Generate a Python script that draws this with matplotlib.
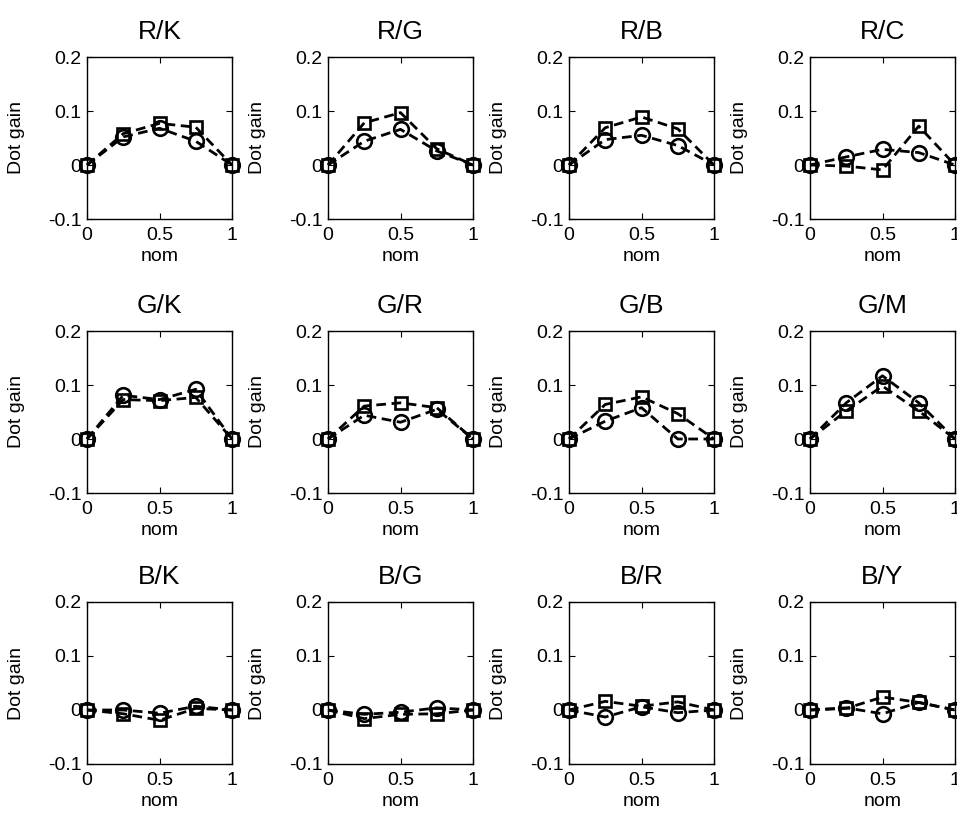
import matplotlib
matplotlib.use("Agg")
import matplotlib.pyplot as plt

plt.rcParams['font.family'] = ['Liberation Sans', 'DejaVu Sans']

nom = [0, 0.25, 0.5, 0.75, 1]

titles = ['R/K', 'R/G', 'R/B', 'R/C',
          'G/K', 'G/R', 'G/B', 'G/M',
          'B/K', 'B/G', 'B/R', 'B/Y']

# square-marker series per panel
gain_sq = [
    [0, 0.058, 0.077, 0.070, 0],
    [0, 0.078, 0.097, 0.030, 0],
    [0, 0.069, 0.089, 0.067, 0],
    [0, -0.002, -0.009, 0.072, 0],
    [0, 0.073, 0.071, 0.077, 0],
    [0, 0.061, 0.067, 0.058, 0],
    [0, 0.064, 0.078, 0.047, 0],
    [0, 0.052, 0.098, 0.052, 0],
    [0, -0.007, -0.019, 0.003, 0],
    [0, -0.016, -0.008, -0.007, 0],
    [0, 0.016, 0.007, 0.015, 0],
    [0, 0.003, 0.024, 0.014, 0],
]

# circle-marker series per panel
gain_ci = [
    [0, 0.052, 0.068, 0.044, 0],
    [0, 0.044, 0.066, 0.026, 0],
    [0, 0.047, 0.055, 0.036, 0],
    [0, 0.015, 0.029, 0.023, 0],
    [0, 0.081, 0.073, 0.092, 0],
    [0, 0.044, 0.031, 0.055, 0],
    [0, 0.033, 0.058, 0.000, 0],
    [0, 0.067, 0.117, 0.067, 0],
    [0, 0.000, -0.006, 0.007, 0],
    [0, -0.008, -0.004, 0.004, 0],
    [0, -0.013, 0.006, -0.005, 0],
    [0, 0.004, -0.007, 0.014, 0],
]

W, H = 957, 818
fig = plt.figure(figsize=(W / 100, H / 100), dpi=100)

lefts = [87, 328, 569, 810]
tops = [57, 331, 602]
aw, ah = 145, 162

for i in range(12):
    r, c = divmod(i, 4)
    ax = fig.add_axes([lefts[c] / W, 1 - (tops[r] + ah) / H, aw / W, ah / H])
    ax.plot(nom, gain_sq[i], color='k', ls='--', dashes=(3.5, 2), lw=2.0,
            marker='s', ms=8, mfc='none', mew=1.9, clip_on=False)
    ax.plot(nom, gain_ci[i], color='k', ls='--', dashes=(3.5, 2), lw=2.0,
            marker='o', ms=10.5, mfc='none', mew=1.9, clip_on=False)
    ax.set_xlim(0, 1)
    ax.set_ylim(-0.1, 0.2)
    ax.set_xticks([0, 0.5, 1])
    ax.set_xticklabels(['0', '0.5', '1'])
    ax.set_yticks([-0.1, 0, 0.1, 0.2])
    ax.set_yticklabels(['-0.1', '0', '0.1', '0.2'])
    ax.tick_params(direction='in', length=4, width=0.8, top=True, right=True,
                   labelsize=14)
    ax.tick_params(axis='x', pad=6)
    ax.tick_params(axis='y', pad=4)
    for s in ax.spines.values():
        s.set_linewidth(1.0)
    ax.set_title(titles[i], fontsize=19, pad=13)
    ax.set_xlabel('nom', fontsize=14)
    ax.set_ylabel('Dot gain', fontsize=14)
    ax.xaxis.set_label_coords(0.5, -0.18)
    ax.yaxis.set_label_coords(-0.43, 0.5)

fig.savefig('out.png', dpi=100)
